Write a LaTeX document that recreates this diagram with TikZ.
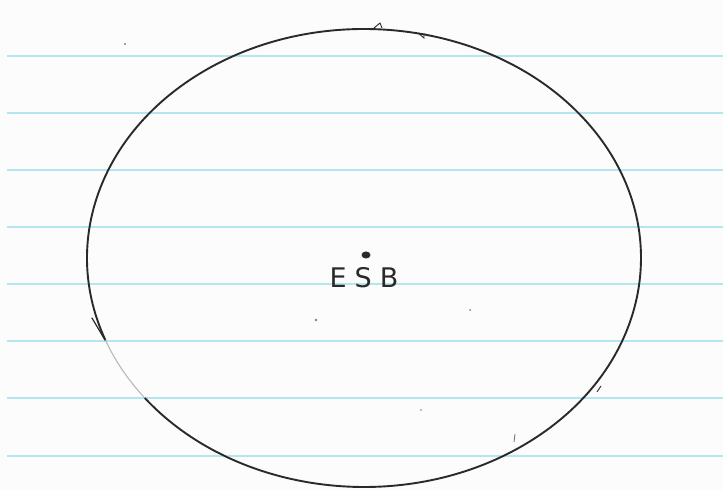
\documentclass[tikz,border=0pt]{standalone}
\usepackage{fontspec}
\usetikzlibrary{calc}
\setsansfont{DejaVu Sans}
\definecolor{paper}{HTML}{FCFCFC}
\definecolor{rule}{HTML}{B4E6F0}
\definecolor{ink}{HTML}{2A2A2A}
\definecolor{faded}{HTML}{B8B8B8}
\tikzset{
  ruleline/.style={draw=rule, line width=2pt},
  inkline/.style={draw=ink, line width=1.9pt, line cap=round},
  fadeline/.style={draw=faded, line width=1.1pt, line cap=round},
  speck/.style={fill=ink!60, draw=none},
  label/.style={font=\sffamily\fontsize{27}{27}\selectfont\addfontfeatures{LetterSpace=30}, text=ink, inner sep=0pt}
}
\begin{document}
\begin{tikzpicture}[x=1pt,y=1pt]
\fill[paper] (0,0) rectangle (723,490);
\useasboundingbox (0,0) rectangle (723,490);
% ruled lines (y measured from the top)
\foreach \yy in {56,113,170,227,284,341,398,456}
  \draw[ruleline] (7,490-\yy) -- (723,490-\yy);
% ellipse, centre (364,232), radii 277 x 229
\coordinate (c) at (364,232);
\draw[inkline] ($(c)+(217.7:277 and 229)$) arc[start angle=217.7, end angle=561, x radius=277, y radius=229];
\draw[fadeline] ($(c)+(201:277 and 229)$) arc[start angle=201, end angle=217.7, x radius=277, y radius=229];
% small pen marks on the outline
\draw[inkline, line width=1.2pt] (92,172) -- (105,150);
\draw[draw=ink, line width=0.9pt] (374,462) -- (380,467) -- (382,462);
\draw[draw=ink, line width=0.9pt] (418,457) -- (424,452) -- (424,456) -- (432,454);
\draw[draw=ink, line width=0.9pt] (597,98) -- (601,104);
\draw[draw=ink!70, line width=0.8pt] (514,48) -- (515,56);
% dot and letters
\fill[ink] (366,235) ellipse[x radius=4.5, y radius=3.5];
\node[label] (esb) at (364,212) {ESB};
% specks
\fill[speck] (125,446) circle (1.2);
\fill[speck] (316,170) circle (1.3);
\fill[speck] (470,180) circle (1.0);
\fill[speck] (421,80) circle (0.9);
\end{tikzpicture}
\end{document}
